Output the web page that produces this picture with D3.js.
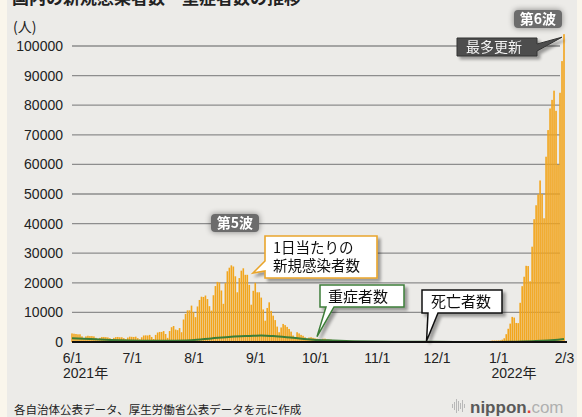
<!DOCTYPE html>
<html>
<head>
<meta charset="utf-8">
<script src="https://cdn.jsdelivr.net/npm/d3@7"></script>
<style>
body { margin: 0; background: #faf6ec; }
svg { display: block; }
text { font-family: "Liberation Sans", Arial, "Noto Sans CJK JP", sans-serif; }
.jp { font-family: "Noto Sans CJK JP", sans-serif; }
</style>
</head>
<body>
<svg id="chart" width="582" height="417"></svg>
<script>
// daily new cases (人), one value per day from 2021/6/1 to 2022/2/3
var casesJun = [2900, 2800, 2700, 2600, 2600, 1900, 1200, 1900, 2100, 2000, 2000, 1900, 1400, 930, 1400,
    1700, 1700, 1650, 1550, 1300, 870, 1400, 1650, 1700, 1600, 1600, 1300, 930, 1500, 1800];
var casesJul = [1750, 1700, 1800, 1300, 900, 1600, 2200, 2250, 2200, 2400, 1700, 1000, 2400, 3200, 3400,
    3400, 3700, 2700, 1400, 3700, 5000, 5400, 4200, 4000, 4700, 3300, 7600, 9500, 10700, 10700, 12300];
var casesAug = [10100, 8400, 12000, 14200, 15300, 15200, 15700, 14500, 12100, 10600, 15800, 18900, 20300, 20100, 17400,
    12900, 19900, 23900, 25100, 25900, 25500, 22200, 16800, 21600, 24100, 24900, 22700, 22700, 19300, 12600, 17300];
var casesSep = [20000, 16800, 16800, 15000, 11000, 7200, 11500, 13400, 10500, 8900, 7400, 5200, 3300, 4900, 6100,
    5700, 5100, 4400, 3500, 2200, 1700, 3300, 2900, 2400, 2100, 1600, 900, 1500, 1600, 1400];
var casesOct = [1240, 1100, 880, 580, 1100, 1130, 880, 790, 770, 600, 370, 610, 630, 620, 500,
    500, 430, 230, 380, 390, 330, 330, 300, 300, 150, 290, 310, 280, 270, 250, 230];
var casesNov = [86, 220, 170, 160, 210, 170, 160, 100, 190, 200, 180, 200, 170, 140, 80,
    130, 200, 140, 150, 130, 140, 60, 80, 80, 120, 120, 120, 100, 60, 90];
var casesDec = [100, 140, 120, 120, 110, 70, 140, 140, 150, 160, 170, 120, 90, 160, 170,
    180, 190, 240, 150, 170, 250, 230, 280, 300, 290, 180, 220, 380, 500, 500, 510];
var casesJan = [530, 550, 780, 1260, 2640, 4470, 6210, 8480, 8250, 6440, 6380, 13240, 18860, 22050, 25740,
    25660, 20500, 32200, 41490, 46200, 49850, 54570, 50000, 41800, 62600, 71600, 78900, 81800, 84900, 78100, 59900];
var casesFeb = [84200, 94900, 104000];

// severe cases (重症者数), read at these dates
var severeDates = ["2021-06-01", "2021-06-10", "2021-06-20", "2021-06-30", "2021-07-10", "2021-07-20", "2021-07-31",
    "2021-08-10", "2021-08-20", "2021-08-31", "2021-09-04", "2021-09-10", "2021-09-20", "2021-09-30",
    "2021-10-10", "2021-10-20", "2021-10-31", "2021-11-10", "2021-11-20", "2021-11-30", "2021-12-10",
    "2021-12-20", "2021-12-31", "2022-01-10", "2022-01-20", "2022-01-31", "2022-02-03"];
var severeValues = [1300, 1000, 700, 520, 430, 450, 600, 1200, 1800, 2100, 2220, 2000, 1400, 800,
    500, 270, 150, 100, 70, 50, 40, 30, 40, 100, 300, 800, 1000];

// deaths (死亡者数)
var deathDates = ["2021-06-01", "2021-06-15", "2021-07-01", "2021-07-15", "2021-08-01", "2021-08-15", "2021-09-01",
    "2021-09-15", "2021-10-01", "2021-10-15", "2021-11-01", "2021-11-15", "2021-12-01", "2021-12-15",
    "2022-01-01", "2022-01-15", "2022-02-01", "2022-02-03"];
var deathValues = [85, 50, 25, 15, 10, 25, 60, 55, 40, 20, 5, 3, 2, 2, 1, 5, 70, 80];

var xTickDates = ["2021-06-01", "2021-07-01", "2021-08-01", "2021-09-01", "2021-10-01",
    "2021-11-01", "2021-12-01", "2022-01-01", "2022-02-03"];
var xTickLabels = ["6/1", "7/1", "8/1", "9/1", "10/1", "11/1", "12/1", "1/1", "2/3"];
var yTickValues = [0, 10000, 20000, 30000, 40000, 50000, 60000, 70000, 80000, 90000, 100000];

var parse = d3.timeParse("%Y-%m-%d");
var startDate = parse("2021-06-01");

var allCases = [].concat(casesJun, casesJul, casesAug, casesSep, casesOct, casesNov, casesDec, casesJan, casesFeb);
var cases = allCases.map(function(v, i) {
    return { date: d3.timeDay.offset(startDate, i), value: v };
});
var severe = severeDates.map(function(d, i) { return { date: parse(d), value: severeValues[i] }; });
var deaths = deathDates.map(function(d, i) { return { date: parse(d), value: deathValues[i] }; });

var x = d3.scaleTime().domain([startDate, parse("2022-02-03")]).range([72, 564]);
var y = d3.scaleLinear().domain([0, 100000]).range([342, 46]);

var svg = d3.select("#chart");

// filters
var defs = svg.append("defs");
var sh = defs.append("filter").attr("id", "shadow")
    .attr("x", "-20%").attr("y", "-30%").attr("width", "150%").attr("height", "180%");
sh.append("feGaussianBlur").attr("in", "SourceAlpha").attr("stdDeviation", 1.8);
sh.append("feOffset").attr("dx", 3).attr("dy", 3).attr("result", "off");
sh.append("feComponentTransfer").append("feFuncA").attr("type", "linear").attr("slope", 0.35);
var m1 = sh.append("feMerge");
m1.append("feMergeNode");
m1.append("feMergeNode").attr("in", "SourceGraphic");

var glow = defs.append("filter").attr("id", "glow")
    .attr("x", "-40%").attr("y", "-60%").attr("width", "180%").attr("height", "220%");
glow.append("feGaussianBlur").attr("in", "SourceAlpha").attr("stdDeviation", 3);
glow.append("feComponentTransfer").append("feFuncA").attr("type", "linear").attr("slope", 0.45);
var m2 = glow.append("feMerge");
m2.append("feMergeNode");
m2.append("feMergeNode").attr("in", "SourceGraphic");

// paper background
svg.append("rect").attr("x", 7).attr("y", 0).attr("width", 570).attr("height", 417).attr("fill", "#ecebe8");

// title (cut at the top edge, as in the scan)
svg.append("text").attr("class", "jp")
    .attr("x", 12).attr("y", 4)
    .attr("font-size", 17).attr("font-weight", "bold").attr("fill", "#222")
    .text("国内の新規感染者数・重症者数の推移");

svg.append("text").attr("class", "jp")
    .attr("x", 13).attr("y", 32)
    .attr("font-size", 14).attr("fill", "#222")
    .text("(人)");

// gridlines
svg.append("g").selectAll("line")
    .data(yTickValues.filter(function(v) { return v > 0; }))
    .enter().append("line")
    .attr("x1", 72).attr("x2", 560)
    .attr("y1", function(d) { return y(d); })
    .attr("y2", function(d) { return y(d); })
    .attr("stroke", "#8d8d8d").attr("stroke-width", 1.3);

// y axis labels
var yAxis = svg.append("g").attr("transform", "translate(66,0)")
    .call(d3.axisLeft(y).tickValues(yTickValues).tickSize(0).tickPadding(3).tickFormat(d3.format("d")));
yAxis.select(".domain").remove();
yAxis.selectAll("text").attr("font-size", 14).attr("fill", "#222")
    .style("font-family", "'Liberation Sans', Arial, sans-serif");

// bars
svg.append("g").selectAll("rect")
    .data(cases)
    .enter().append("rect")
    .attr("x", function(d) { return x(d.date) - 0.8; })
    .attr("y", function(d) { return y(d.value); })
    .attr("width", 1.6)
    .attr("height", function(d) { return y(0) - y(d.value); })
    .attr("fill", "#f2a51c");

// severe cases line
svg.append("path")
    .datum(severe)
    .attr("fill", "none")
    .attr("stroke", "#3c7d38")
    .attr("stroke-width", 2)
    .attr("d", d3.line().curve(d3.curveMonotoneX)
        .x(function(d) { return x(d.date); })
        .y(function(d) { return y(d.value); }));

// baseline
svg.append("line")
    .attr("x1", 72).attr("x2", 567)
    .attr("y1", y(0)).attr("y2", y(0))
    .attr("stroke", "#111").attr("stroke-width", 2);

// deaths line
svg.append("path")
    .datum(deaths)
    .attr("fill", "none")
    .attr("stroke", "#111")
    .attr("stroke-width", 1.5)
    .attr("d", d3.line().curve(d3.curveMonotoneX)
        .x(function(d) { return x(d.date); })
        .y(function(d) { return y(d.value); }));

// x axis labels
var xAxis = svg.append("g").attr("transform", "translate(0,345)")
    .call(d3.axisBottom(x).tickValues(xTickDates.map(parse)).tickSize(0).tickPadding(8)
        .tickFormat(function(d, i) { return xTickLabels[i]; }));
xAxis.select(".domain").remove();
xAxis.selectAll("text").attr("font-size", 14).attr("fill", "#222")
    .style("font-family", "'Liberation Sans', Arial, sans-serif");

svg.append("text").attr("x", 63).attr("y", 378).attr("font-size", 14).attr("fill", "#222").text("2021年");
svg.append("text").attr("x", 514).attr("y", 378).attr("text-anchor", "middle")
    .attr("font-size", 14).attr("fill", "#222").text("2022年");

// callout: box with a tail ending at the tip
function callout(b, tail, stroke, fill, sw) {
    var g = svg.append("g").attr("filter", "url(#shadow)");
    var p = d3.path();
    var x0 = b.x, y0 = b.y, x1 = b.x + b.w, y1 = b.y + b.h;
    p.moveTo(x0, y0);
    p.lineTo(x1, y0);
    if (tail.side === "right") {
        p.lineTo(x1, tail.a);
        p.lineTo(tail.tx, tail.ty);
        p.lineTo(x1, tail.b);
    }
    p.lineTo(x1, y1);
    if (tail.side === "bottom") {
        p.lineTo(tail.b, y1);
        p.lineTo(tail.tx, tail.ty);
        p.lineTo(tail.a, y1);
    }
    p.lineTo(x0, y1);
    if (tail.side === "left") {
        p.lineTo(x0, tail.b);
        p.lineTo(tail.tx, tail.ty);
        p.lineTo(x0, tail.a);
    }
    p.closePath();
    g.append("path").attr("d", p.toString())
        .attr("fill", fill).attr("stroke", stroke).attr("stroke-width", sw)
        .attr("stroke-linejoin", "miter");
    return g;
}

// one text element per callout, extra lines as tspans
function label(g, lines, x0, y0, size, color, lh) {
    var t = g.append("text").attr("class", "jp")
        .attr("x", x0).attr("y", y0)
        .attr("font-size", size).attr("fill", color);
    lines.forEach(function(s, i) {
        t.append("tspan").attr("x", x0).attr("dy", i === 0 ? 0 : lh).text(s);
    });
}

// 1日当たりの新規感染者数
var c1 = callout({ x: 265, y: 236, w: 112, h: 42 },
    { side: "left", a: 261, b: 271, tx: 253, ty: 273 }, "#e9a52c", "#fff", 1.6);
label(c1, ["1日当たりの", "新規感染者数"], 273, 253, 14.5, "#111", 18);

// 重症者数
var c2 = callout({ x: 320, y: 285, w: 84, h: 22 },
    { side: "bottom", a: 326, b: 334, tx: x(parse("2021-10-01")) + 2, ty: y(800) - 3 }, "#3c7d38", "#fff", 1.5);
label(c2, ["重症者数"], 328, 302, 15, "#111", 0);

// 死亡者数
var c3 = callout({ x: 422, y: 290, w: 80, h: 23 },
    { side: "bottom", a: 428, b: 438, tx: x(parse("2021-11-26")), ty: y(0) - 1 }, "#111", "#fff", 1.5);
label(c3, ["死亡者数"], 431, 307, 15, "#111", 0);

// 最多更新
var last = cases[cases.length - 1];
var c4 = callout({ x: 457, y: 38, w: 80, h: 18 },
    { side: "right", a: 44, b: 51, tx: x(last.date) - 2, ty: y(last.value) + 3 }, "#333", "#4e4e4e", 1);
label(c4, ["最多更新"], 466, 52, 14, "#f4f4f4", 0);

// 第5波 / 第6波 tags
function tag(cx, cy, t) {
    var g = svg.append("g").attr("filter", "url(#glow)");
    g.append("rect").attr("x", cx - 24).attr("y", cy - 9).attr("width", 48).attr("height", 18)
        .attr("rx", 4).attr("fill", "#6c6c6c");
    g.append("text").attr("class", "jp").attr("x", cx).attr("y", cy + 5)
        .attr("text-anchor", "middle").attr("font-size", 14).attr("font-weight", "bold")
        .attr("fill", "#fff").text(t);
}
tag(235, 223, "第5波");
tag(538, 19, "第6波");

// source
svg.append("text").attr("class", "jp")
    .attr("x", 14).attr("y", 414)
    .attr("font-size", 11.5).attr("fill", "#222")
    .text("各自治体公表データ、厚生労働省公表データを元に作成");

// logo
var logo = svg.append("g");
[2, 4, 7, 5, 3, 6, 2].forEach(function(h, i) {
    logo.append("rect").attr("x", 452 + i * 2).attr("y", 406 - h).attr("width", 1)
        .attr("height", h * 2).attr("fill", "#b8b8b8");
});
var lt = logo.append("text").attr("x", 470).attr("y", 413).attr("font-size", 17).attr("font-weight", "bold");
lt.append("tspan").attr("fill", "#5a5a5a").text("nippon");
lt.append("tspan").attr("fill", "#e0423a").text(".");
lt.append("tspan").attr("fill", "#b0b0b0").attr("font-weight", "normal").text("com");
</script>
</body>
</html>
